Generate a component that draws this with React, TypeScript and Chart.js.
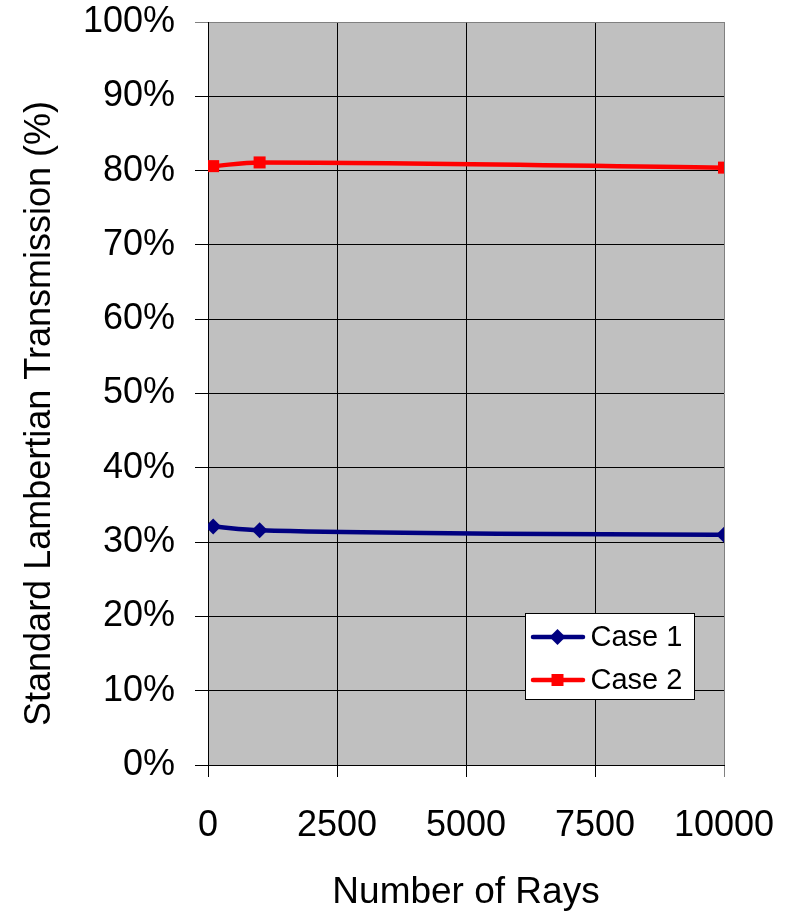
import React, { useEffect, useRef } from "react";
import { Chart, registerables } from "chart.js";

Chart.register(...registerables);

const rays = [100, 1000, 10000];
const case1 = [32.1, 31.6, 31.0];
const case2 = [80.6, 81.1, 80.4];
const seriesLabels = ["Case 1", "Case 2"];
const xTitle = "Number of Rays";
const yTitle = "Standard Lambertian Transmission (%)";

const FONT = "'Liberation Sans', Arial, sans-serif";

const plotBg = {
  id: "plotBg",
  beforeDraw(chart: any) {
    const { ctx, chartArea } = chart;
    ctx.save();
    ctx.fillStyle = "#C0C0C0";
    ctx.fillRect(chartArea.left, chartArea.top, chartArea.right - chartArea.left, chartArea.bottom - chartArea.top);
    ctx.restore();
  },
};

const customLegend = {
  id: "customLegend",
  afterDraw(chart: any) {
    const { ctx, chartArea } = chart;
    const bx = chartArea.left + 317.5;
    const by = chartArea.top + 591.5;
    const bw = 169;
    const bh = 86;
    ctx.save();
    ctx.fillStyle = "#FFFFFF";
    ctx.fillRect(bx, by, bw, bh);
    ctx.strokeStyle = "#000000";
    ctx.lineWidth = 1;
    ctx.strokeRect(bx, by, bw, bh);
    chart.data.datasets.forEach((ds: any, i: number) => {
      const y = by + 23.5 + i * 43;
      const x0 = bx + 7.5;
      ctx.strokeStyle = ds.borderColor;
      ctx.lineWidth = 4.5;
      ctx.lineCap = "round";
      ctx.beginPath();
      ctx.moveTo(x0, y);
      ctx.lineTo(x0 + 50, y);
      ctx.stroke();
      const mx = x0 + 24.5;
      ctx.fillStyle = ds.pointBackgroundColor;
      ctx.beginPath();
      if (ds.pointStyle === "rectRot") {
        const r = 8;
        ctx.moveTo(mx, y - r);
        ctx.lineTo(mx + r, y);
        ctx.lineTo(mx, y + r);
        ctx.lineTo(mx - r, y);
        ctx.closePath();
      } else {
        const h = 6;
        ctx.rect(mx - h, y - h, 2 * h, 2 * h);
      }
      ctx.fill();
      ctx.fillStyle = "#000000";
      ctx.font = `29px ${FONT}`;
      ctx.textAlign = "left";
      ctx.textBaseline = "middle";
      ctx.fillText(ds.label, bx + 65, y + 1);
    });
    ctx.restore();
  },
};

export default function App() {
  const ref = useRef<HTMLCanvasElement | null>(null);

  useEffect(() => {
    document.body.style.margin = "0";
    const canvas = ref.current;
    if (!canvas) return;
    const chart = new Chart(canvas, {
      type: "line",
      data: {
        datasets: [
          {
            label: seriesLabels[0],
            data: rays.map((x, i) => ({ x, y: case1[i] })),
            borderColor: "#000080",
            backgroundColor: "#000080",
            pointBackgroundColor: "#000080",
            pointBorderColor: "#000080",
            pointStyle: "rectRot",
            pointRadius: 8,
            pointBorderWidth: 0,
            borderWidth: 4.5,
            cubicInterpolationMode: "monotone",
            fill: false,
          },
          {
            label: seriesLabels[1],
            data: rays.map((x, i) => ({ x, y: case2[i] })),
            borderColor: "#FF0000",
            backgroundColor: "#FF0000",
            pointBackgroundColor: "#FF0000",
            pointBorderColor: "#FF0000",
            pointStyle: "rect",
            pointRadius: 8.5,
            pointBorderWidth: 0,
            borderWidth: 4.5,
            cubicInterpolationMode: "monotone",
            fill: false,
          },
        ],
      },
      options: {
        animation: false,
        responsive: true,
        maintainAspectRatio: false,
        layout: { padding: { top: 22, right: 61, left: 0, bottom: 0 } },
        plugins: {
          legend: { display: false },
          tooltip: { enabled: false },
        },
        scales: {
          x: {
            type: "linear",
            min: 0,
            max: 10000,
            ticks: {
              stepSize: 2500,
              color: "#000",
              font: { family: FONT, size: 36 },
              padding: 27,
              maxRotation: 0,
              callback: (v: any) => String(v),
            },
            grid: {
              color: (c: any) => (c.tick && c.tick.value === 10000 ? "#808080" : "#000000"),
              lineWidth: 1,
              tickLength: 12,
            },
            border: { color: "#000000", width: 1 },
            title: {
              display: true,
              text: xTitle,
              color: "#000",
              font: { family: FONT, size: 37, lineHeight: 1 },
              padding: { top: 0, bottom: 4 },
            },
            afterFit: (s: any) => {
              s.height = 150;
              s.paddingLeft = 0;
              s.paddingRight = 0;
            },
          },
          y: {
            min: 0,
            max: 100,
            ticks: {
              stepSize: 10,
              color: "#000",
              font: { family: FONT, size: 36 },
              padding: 20,
              callback: (v: any) => `${v}%`,
            },
            grid: {
              color: (c: any) => (c.tick && c.tick.value === 100 ? "#808080" : "#000000"),
              lineWidth: 1,
              tickLength: 13,
            },
            border: { color: "#000000", width: 1 },
            title: {
              display: true,
              text: yTitle + "    ",
              color: "#000",
              font: { family: FONT, size: 36, lineHeight: 1.2 },
              padding: { top: 18, bottom: 0 },
            },
            afterFit: (s: any) => {
              s.width = 208;
              s.paddingTop = 0;
              s.paddingBottom = 0;
            },
          },
        },
      },
      plugins: [plotBg, customLegend],
    });
    return () => chart.destroy();
  }, []);

  return (
    <div style={{ position: "relative", width: "785px", height: "915px" }}>
      <canvas ref={ref} />
    </div>
  );
}
